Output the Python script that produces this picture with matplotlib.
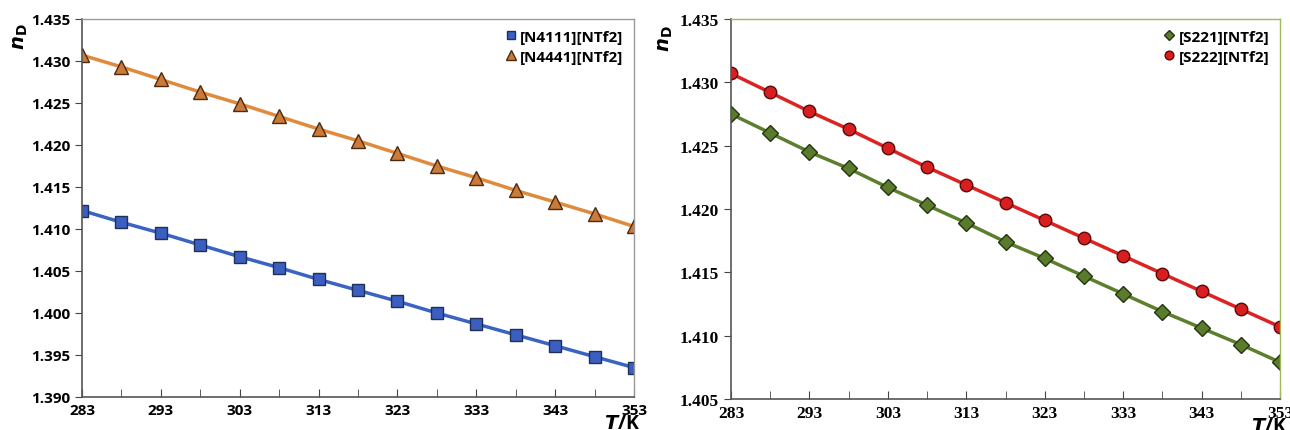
import matplotlib.pyplot as plt
from matplotlib.ticker import MultipleLocator, FormatStrFormatter

plt.rcParams['font.family'] = ['Open Sans', 'DejaVu Sans']
plt.rcParams['font.weight'] = 'bold'

T = [283, 288, 293, 298, 303, 308, 313, 318, 323, 328, 333, 338, 343, 348, 353]
T_ticks = [283, 293, 303, 313, 323, 333, 343, 353]

n4111 = [1.4122, 1.4108, 1.4095, 1.4081, 1.4067, 1.4054, 1.4040, 1.4027,
         1.4014, 1.4000, 1.3987, 1.3974, 1.3961, 1.3948, 1.3935]
n4441 = [1.4307, 1.4293, 1.4278, 1.4263, 1.4249, 1.4234, 1.4219, 1.4205,
         1.4190, 1.4175, 1.4161, 1.4146, 1.4132, 1.4118, 1.4103]
s221 = [1.4275, 1.4260, 1.4245, 1.4232, 1.4217, 1.4203, 1.4189, 1.4174,
        1.4161, 1.4147, 1.4133, 1.4119, 1.4106, 1.4093, 1.4079]
s222 = [1.4307, 1.4292, 1.4277, 1.4263, 1.4248, 1.4233, 1.4219, 1.4205,
        1.4191, 1.4177, 1.4163, 1.4149, 1.4135, 1.4121, 1.4107]

fig = plt.figure(figsize=(12.9, 4.31), dpi=100)
ax1 = fig.add_axes([82/1290, 33/431, 552/1290, 378/431])
ax2 = fig.add_axes([731/1290, 31/431, 549/1290, 380/431])


def style(ax, ylo, yhi, spine_col, nd_x, nd_y, tk_x, tick_font, tick_size):
    ax.set_xlim(283, 353)
    ax.set_ylim(ylo, yhi)
    ax.set_xticks(T_ticks)
    ax.set_xticks(T, minor=True)
    ax.yaxis.set_major_locator(MultipleLocator(0.005))
    ax.yaxis.set_major_formatter(FormatStrFormatter('%.3f'))
    ax.tick_params(axis='x', which='both', direction='in', length=6,
                   labelsize=tick_size, pad=4, color='#444444')
    ax.tick_params(axis='y', direction='out', length=5, labelsize=tick_size,
                   color='#444444')
    for lab in ax.get_xticklabels() + ax.get_yticklabels():
        lab.set_family(tick_font)
        lab.set_fontweight('bold')
    for s in ['left', 'bottom']:
        ax.spines[s].set_color('#555555')
        ax.spines[s].set_linewidth(1.2)
    for s in ['top', 'right']:
        ax.spines[s].set_color(spine_col)
        ax.spines[s].set_linewidth(1.0)
    ax.text(nd_x, nd_y, r'$\mathbf{\mathit{n}}_\mathbf{D}$', transform=ax.transAxes,
            rotation=90, ha='center', va='top', fontsize=14)
    ax.text(tk_x, -0.07, r'$\mathbf{\mathit{T}}$/K', transform=ax.transAxes,
            ha='right', va='center', fontsize=14, fontweight='bold')


style(ax1, 1.390, 1.435, '#999999', -0.112, 0.99, 1.012, ['Open Sans'], 11)
style(ax2, 1.405, 1.435, '#9bbb59', -0.12, 0.985, 1.014, ['Liberation Serif'], 12.5)

ax1.plot(T, n4111, color='#3a64c4', lw=2.5)
ax1.plot(T, n4441, color='#e08a3c', lw=2.5)
ax2.plot(T, s221, color='#5c7f2e', lw=2.5)
ax2.plot(T, s222, color='#dd2222', lw=2.5)

ax1.plot(T, n4111, ls='none', marker='s', ms=8,
         mfc='#3a5fc0', mec='#1f2f55', mew=1.0, label='[N4111][NTf2]')
ax1.plot(T, n4441, ls='none', marker='^', ms=10,
         mfc='#cc7a38', mec='#4a2a10', mew=1.0, label='[N4441][NTf2]')
ax2.plot(T, s221, ls='none', marker='D', ms=8,
         mfc='#5a7a2c', mec='#23340f', mew=1.0, label='[S221][NTf2]')
ax2.plot(T, s222, ls='none', marker='o', ms=9,
         mfc='#d81e1e', mec='#5a0a0a', mew=1.0, label='[S222][NTf2]')

for ax in (ax1, ax2):
    ax.legend(loc='upper right', frameon=False, fontsize=11,
              handlelength=0.6, handletextpad=0.3, markerscale=0.7,
              borderaxespad=0.3, labelspacing=0.4)

fig.savefig('out.png', dpi=100)
